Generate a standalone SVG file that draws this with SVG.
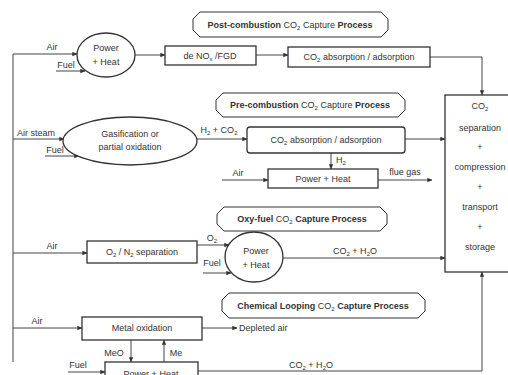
<svg xmlns="http://www.w3.org/2000/svg" width="508" height="375" viewBox="0 0 508 375">
  <style>
    text { font-family: "Liberation Sans", Arial, sans-serif; font-size: 9px; fill: #333; }
    .c { text-anchor: middle; }
    .b { font-weight: bold; }
    .sub { font-size: 6px; }
    .box { fill: #fff; stroke: #333; stroke-width: 1.3; }
    .lbl { fill: #fff; stroke: #333; stroke-width: 1; stroke-linejoin: round; }
    .ln { fill: none; stroke: #444; stroke-width: 1; }
  </style>
  <defs>
    <marker id="ah" viewBox="0 0 8 8" refX="7.5" refY="4" markerWidth="5" markerHeight="5" orient="auto" markerUnits="userSpaceOnUse">
      <path d="M0,0.5 L8,4 L0,7.5 Z" fill="#333"/>
    </marker>
  </defs>
  <rect width="508" height="375" fill="#fff"/>

  <!-- connectors -->
  <g id="connectors" class="ln">
    <path d="M13,54 V362"/>
    <path d="M13,54 H77" marker-end="url(#ah)"/>
    <path d="M56,71 H85" marker-end="url(#ah)"/>
    <path d="M135,55 H165" marker-end="url(#ah)"/>
    <path d="M256,55 H288" marker-end="url(#ah)"/>
    <path d="M430,57 H482 V95" marker-end="url(#ah)"/>
    <path d="M13,139 H64" marker-end="url(#ah)"/>
    <path d="M45,156 H79" marker-end="url(#ah)"/>
    <path d="M197,139 H247" marker-end="url(#ah)"/>
    <path d="M405,139 H445" marker-end="url(#ah)"/>
    <path d="M331,153 V169" marker-end="url(#ah)"/>
    <path d="M222,180 H268" marker-end="url(#ah)"/>
    <path d="M378,180 H432" marker-end="url(#ah)"/>
    <path d="M13,253 H87" marker-end="url(#ah)"/>
    <path d="M197,245 H229" marker-end="url(#ah)"/>
    <path d="M203,273 H231" marker-end="url(#ah)"/>
    <path d="M283,258 H445" marker-end="url(#ah)"/>
    <path d="M13,328 H82" marker-end="url(#ah)"/>
    <path d="M202,328 H237" marker-end="url(#ah)"/>
    <path d="M131,340 V362" marker-end="url(#ah)"/>
    <path d="M164,362 V340" marker-end="url(#ah)"/>
    <path d="M68,372 H105" marker-end="url(#ah)"/>
    <path d="M198,371 H482 V272" marker-end="url(#ah)"/>
  </g>

  <!-- connector labels -->
  <g id="connector-labels">
    <text x="52" y="50" class="c">Air</text>
    <text x="66" y="68" class="c">Fuel</text>
    <text x="36" y="136" class="c">Air steam</text>
    <text x="55" y="153" class="c">Fuel</text>
    <text x="219" y="133" class="c">H<tspan class="sub" dy="2">2</tspan><tspan dy="-2"> + CO</tspan><tspan class="sub" dy="2">2</tspan></text>
    <text x="336" y="163">H<tspan class="sub" dy="2">2</tspan></text>
    <text x="238" y="176" class="c">Air</text>
    <text x="405" y="175" class="c">flue gas</text>
    <text x="52" y="249" class="c">Air</text>
    <text x="212" y="241" class="c">O<tspan class="sub" dy="2">2</tspan></text>
    <text x="212" y="266" class="c">Fuel</text>
    <text x="355" y="254" class="c">CO<tspan class="sub" dy="2">2</tspan><tspan dy="-2"> + H</tspan><tspan class="sub" dy="2">2</tspan><tspan dy="-2">O</tspan></text>
    <text x="37" y="324" class="c">Air</text>
    <text x="239" y="331">Depleted air</text>
    <text x="114" y="356" class="c">MeO</text>
    <text x="176" y="356" class="c">Me</text>
    <text x="78" y="368" class="c">Fuel</text>
    <text x="311" y="368" class="c">CO<tspan class="sub" dy="2">2</tspan><tspan dy="-2"> + H</tspan><tspan class="sub" dy="2">2</tspan><tspan dy="-2">O</tspan></text>
  </g>

  <!-- process title tags -->
  <g id="title-post">
    <path class="lbl" d="M200,12 H381 L388,19 V30 L381,37 H200 L193,30 V19 Z"/>
    <text x="290" y="28" class="c"><tspan class="b">Post-combustion</tspan> CO<tspan class="sub" dy="2">2</tspan><tspan dy="-2"> Capture </tspan><tspan class="b">Process</tspan></text>
  </g>
  <g id="title-pre">
    <path class="lbl" d="M223,93 H398 L405,100 V110 L398,117 H223 L216,110 V100 Z"/>
    <text x="310" y="108" class="c"><tspan class="b">Pre-combustion</tspan> CO<tspan class="sub" dy="2">2</tspan><tspan dy="-2"> Capture </tspan><tspan class="b">Process</tspan></text>
  </g>
  <g id="title-oxy">
    <path class="lbl" d="M224,207 H380 L387,214 V224 L380,231 H224 L217,224 V214 Z"/>
    <text x="302" y="222" class="c"><tspan class="b">Oxy-fuel</tspan> CO<tspan class="sub" dy="2">2</tspan><tspan dy="-2" class="b"> Capture Process</tspan></text>
  </g>
  <g id="title-chem">
    <path class="lbl" d="M229,293 H418 L425,300 V311 L418,318 H229 L222,311 V300 Z"/>
    <text x="323" y="309" class="c"><tspan class="b">Chemical Looping</tspan> CO<tspan class="sub" dy="2">2</tspan><tspan dy="-2" class="b"> Capture Process</tspan></text>
  </g>

  <!-- post-combustion nodes -->
  <g id="power-heat-1">
    <ellipse class="box" cx="106" cy="55" rx="29" ry="22"/>
    <text x="106" y="51" class="c">Power</text>
    <text x="106" y="65" class="c">+ Heat</text>
  </g>
  <g id="denox-fgd">
    <rect class="box" x="165" y="46" width="91" height="19"/>
    <text x="210" y="59" class="c">de NO<tspan class="sub" dy="2">x</tspan><tspan dy="-2"> /FGD</tspan></text>
  </g>
  <g id="co2-absorption-1">
    <rect class="box" x="288" y="47" width="142" height="20"/>
    <text x="359" y="60" class="c">CO<tspan class="sub" dy="2">2</tspan><tspan dy="-2"> absorption / adsorption</tspan></text>
  </g>

  <!-- pre-combustion nodes -->
  <g id="gasification">
    <ellipse class="box" cx="130" cy="141" rx="67" ry="24"/>
    <text x="130" y="137" class="c">Gasification or</text>
    <text x="130" y="150" class="c">partial oxidation</text>
  </g>
  <g id="co2-absorption-2">
    <rect class="box" x="247" y="127" width="158" height="26" rx="3"/>
    <text x="326" y="143" class="c">CO<tspan class="sub" dy="2">2</tspan><tspan dy="-2"> absorption / adsorption</tspan></text>
  </g>
  <g id="power-heat-2">
    <rect class="box" x="268" y="169" width="110" height="19"/>
    <text x="323" y="182" class="c">Power + Heat</text>
  </g>

  <!-- oxy-fuel nodes -->
  <g id="air-separation">
    <rect class="box" x="87" y="241" width="110" height="22"/>
    <text x="142" y="255" class="c">O<tspan class="sub" dy="2">2</tspan><tspan dy="-2"> / N</tspan><tspan class="sub" dy="2">2</tspan><tspan dy="-2"> separation</tspan></text>
  </g>
  <g id="power-heat-3">
    <ellipse class="box" cx="254" cy="257" rx="29" ry="25"/>
    <text x="256" y="254" class="c">Power</text>
    <text x="256" y="268" class="c">+ Heat</text>
  </g>

  <!-- chemical looping nodes -->
  <g id="metal-oxidation">
    <rect class="box" x="82" y="317" width="120" height="23"/>
    <text x="142" y="331" class="c">Metal oxidation</text>
  </g>
  <g id="power-heat-4">
    <rect class="box" x="105" y="362" width="93" height="22"/>
    <text x="151" y="377" class="c">Power + Heat</text>
  </g>

  <!-- common CO2 handling -->
  <g id="co2-handling">
    <rect class="box" x="445" y="95" width="80" height="177"/>
    <text x="480" y="109" class="c">CO<tspan class="sub" dy="2">2</tspan></text>
    <text x="480" y="131" class="c">separation</text>
    <text x="480" y="150" class="c">+</text>
    <text x="480" y="170" class="c">compression</text>
    <text x="480" y="190" class="c">+</text>
    <text x="480" y="210" class="c">transport</text>
    <text x="480" y="230" class="c">+</text>
    <text x="480" y="250" class="c">storage</text>
  </g>
</svg>
